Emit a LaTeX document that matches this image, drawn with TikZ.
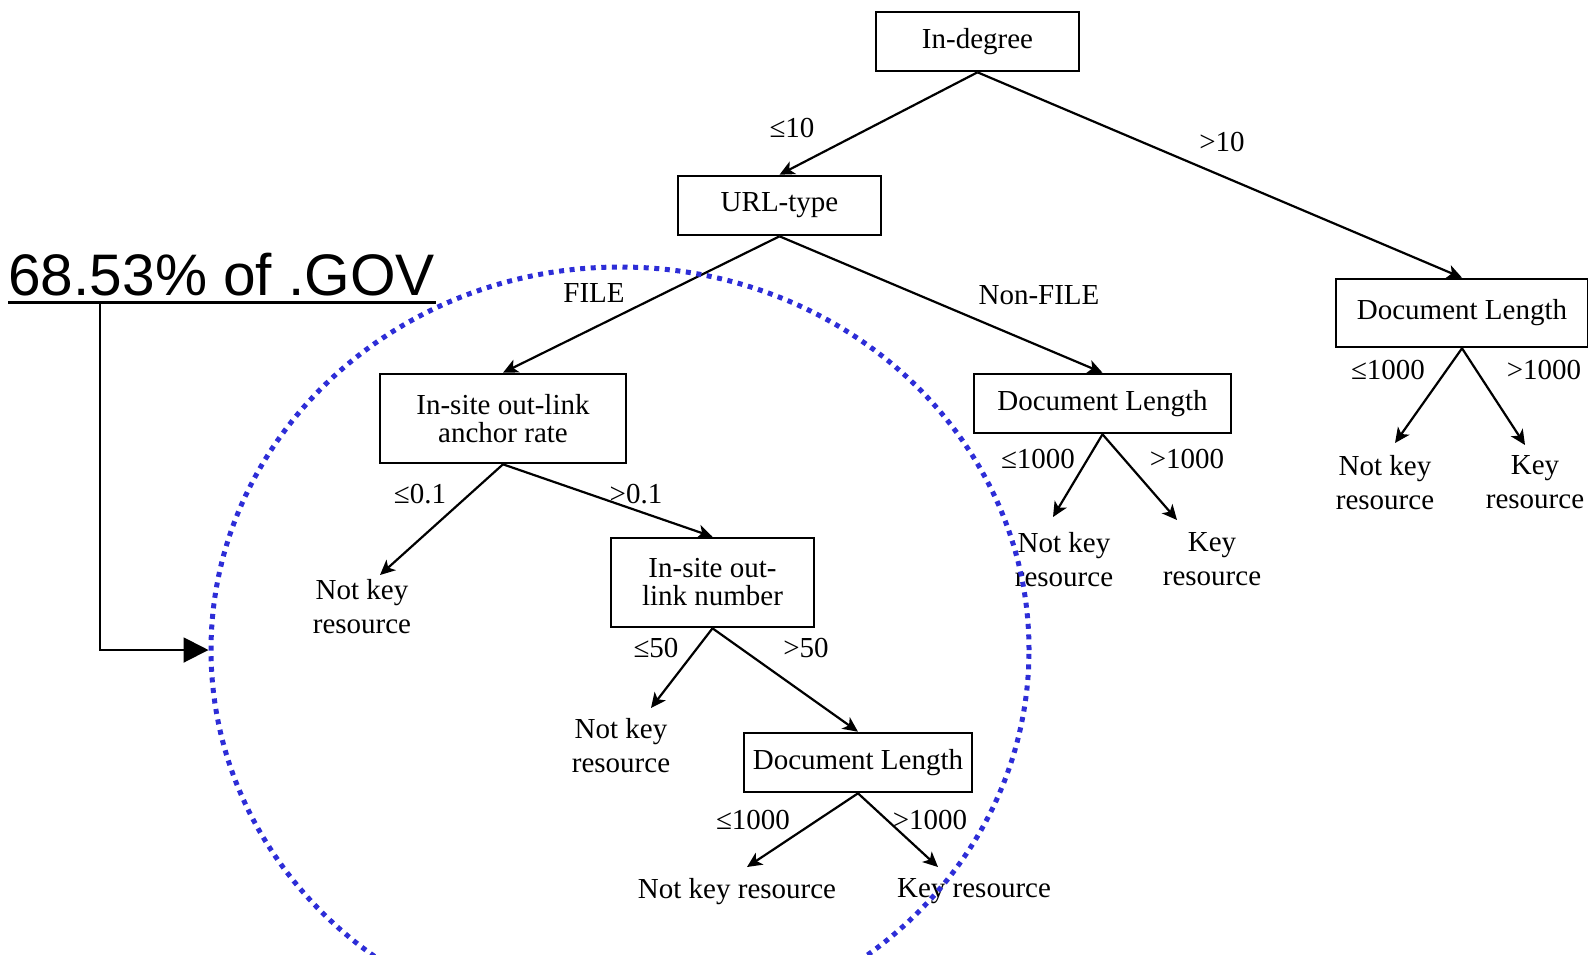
\documentclass[tikz,border=0pt]{standalone}
\usepackage{fontspec}
\setmainfont{Liberation Serif}
\newfontfamily\labelsans{Liberation Sans}
\usepackage{tikz}
\usetikzlibrary{positioning, shapes.geometric, arrows.meta, calc}
\definecolor{ringblue}{RGB}{45,45,215}
\tikzset{
  test/.style={draw, line width=1.3pt, inner sep=0pt, minimum height=29.5pt, align=center, font=\fontsize{14.5}{14}\selectfont},
  leaf/.style={inner sep=0pt, align=center, anchor=north, font=\fontsize{14.5}{17}\selectfont},
  cond/.style={inner sep=0pt, font=\fontsize{14.5}{17}\selectfont},
  branch/.style={line width=1.1pt, -{Stealth[length=7.5pt,width=7pt,inset=2pt]}},
}

\begin{document}
\begin{tikzpicture}[x=0.5pt, y=-0.5pt]
  \useasboundingbox (0,0) rectangle (1588,954);
  % Test nodes (pixel grid, y down)
  \node[test, minimum width=101.5pt] (deg) at (977.5,41.5) {In-degree};
  \node[test, minimum width=101.5pt] (url) at (779.5,205.5) {URL-type};
  \node[test, minimum width=123pt, minimum height=44.5pt] (rate) at (503,418.5) {In-site out-link\\anchor rate};
  \node[test, minimum width=128.5pt] (lenA) at (1102.5,403.5) {Document Length};
  \node[test, minimum width=126pt, minimum height=34pt] (lenB) at (1462,313) {Document Length};
  \node[test, minimum width=101.5pt, minimum height=44.5pt] (outnum) at (712.5,582.5) {In-site out-\\link number};
  \node[test, minimum width=114pt] (lenC) at (858,762.5) {Document Length};
  % Leaves
  \node[leaf] (nk1) at (362,579) {Not key\\resource};
  \node[leaf] (nk2) at (621,718) {Not key\\resource};
  \node[leaf] (nk3) at (737,878) {Not key resource};
  \node[leaf] (k3) at (974,878) {Key resource};
  \node[leaf] (nk4) at (1064,532) {Not key\\resource};
  \node[leaf] (k4) at (1212,532) {Key\\resource};
  \node[leaf] (nk5) at (1385,455) {Not key\\resource};
  \node[leaf] (k5) at (1535,455) {Key\\resource};
  % Branches
  \draw[branch] (deg.south) -- (url.north);
  \draw[branch] (deg.south) -- (lenB.north);
  \draw[branch] (url.south) -- (rate.north);
  \draw[branch] (url.south) -- (lenA.north);
  \draw[branch] (rate.south) -- ($(nk1.north)+(18,-4)$);
  \draw[branch] (rate.south) -- (outnum.north);
  \draw[branch] (outnum.south) -- ($(nk2.north)+(30,-10)$);
  \draw[branch] (outnum.south) -- (lenC.north);
  \draw[branch] (lenC.south) -- ($(nk3.north)+(10,-11)$);
  \draw[branch] (lenC.south) -- ($(k3.north)+(-36,-11)$);
  \draw[branch] (lenA.south) -- ($(nk4.north)+(-11,-15)$);
  \draw[branch] (lenA.south) -- ($(k4.north)+(-35,-12)$);
  \draw[branch] (lenB.south) -- ($(nk5.north)+(10,-12)$);
  \draw[branch] (lenB.south) -- ($(k5.north)+(-10,-10)$);
  % Branch conditions
  \node[cond] (c1) at (792,128) {≤10};
  \node[cond] (c2) at (1222,142) {>10};
  \node[cond] (c3) at (594,293) {FILE};
  \node[cond] (c4) at (1039,295) {Non-FILE};
  \node[cond] (c5) at (420,494) {≤0.1};
  \node[cond] (c6) at (636,494) {>0.1};
  \node[cond] (c7) at (656,648) {≤50};
  \node[cond] (c8) at (806,648) {>50};
  \node[cond] (c9) at (753,820) {≤1000};
  \node[cond] (c10) at (930,820) {>1000};
  \node[cond] (c11) at (1038,459) {≤1000};
  \node[cond] (c12) at (1187,459) {>1000};
  \node[cond] (c13) at (1388,370) {≤1000};
  \node[cond] (c14) at (1544,370) {>1000};
  % Highlight ring and its label
  \node[draw=ringblue, ellipse, line width=2.5pt, dash pattern=on 2.5pt off 2.8pt, minimum width=409pt, minimum height=383pt, inner sep=0pt] (ring) at (620,650) {};
  \node[inner sep=0pt, anchor=base west, font=\labelsans\fontsize{29.3}{30}\selectfont] (gov) at (8,295) {68.53\% of .GOV};
  \draw[line width=1.5pt] ([yshift=-3.5pt]gov.base west) -- ([yshift=-3.5pt]gov.base east);
  \coordinate (tap) at (100,302);
  \draw[line width=1pt, -{Triangle[length=12.5pt,width=12.5pt]}] (tap) |- (ring.west);
\end{tikzpicture}
\end{document}
